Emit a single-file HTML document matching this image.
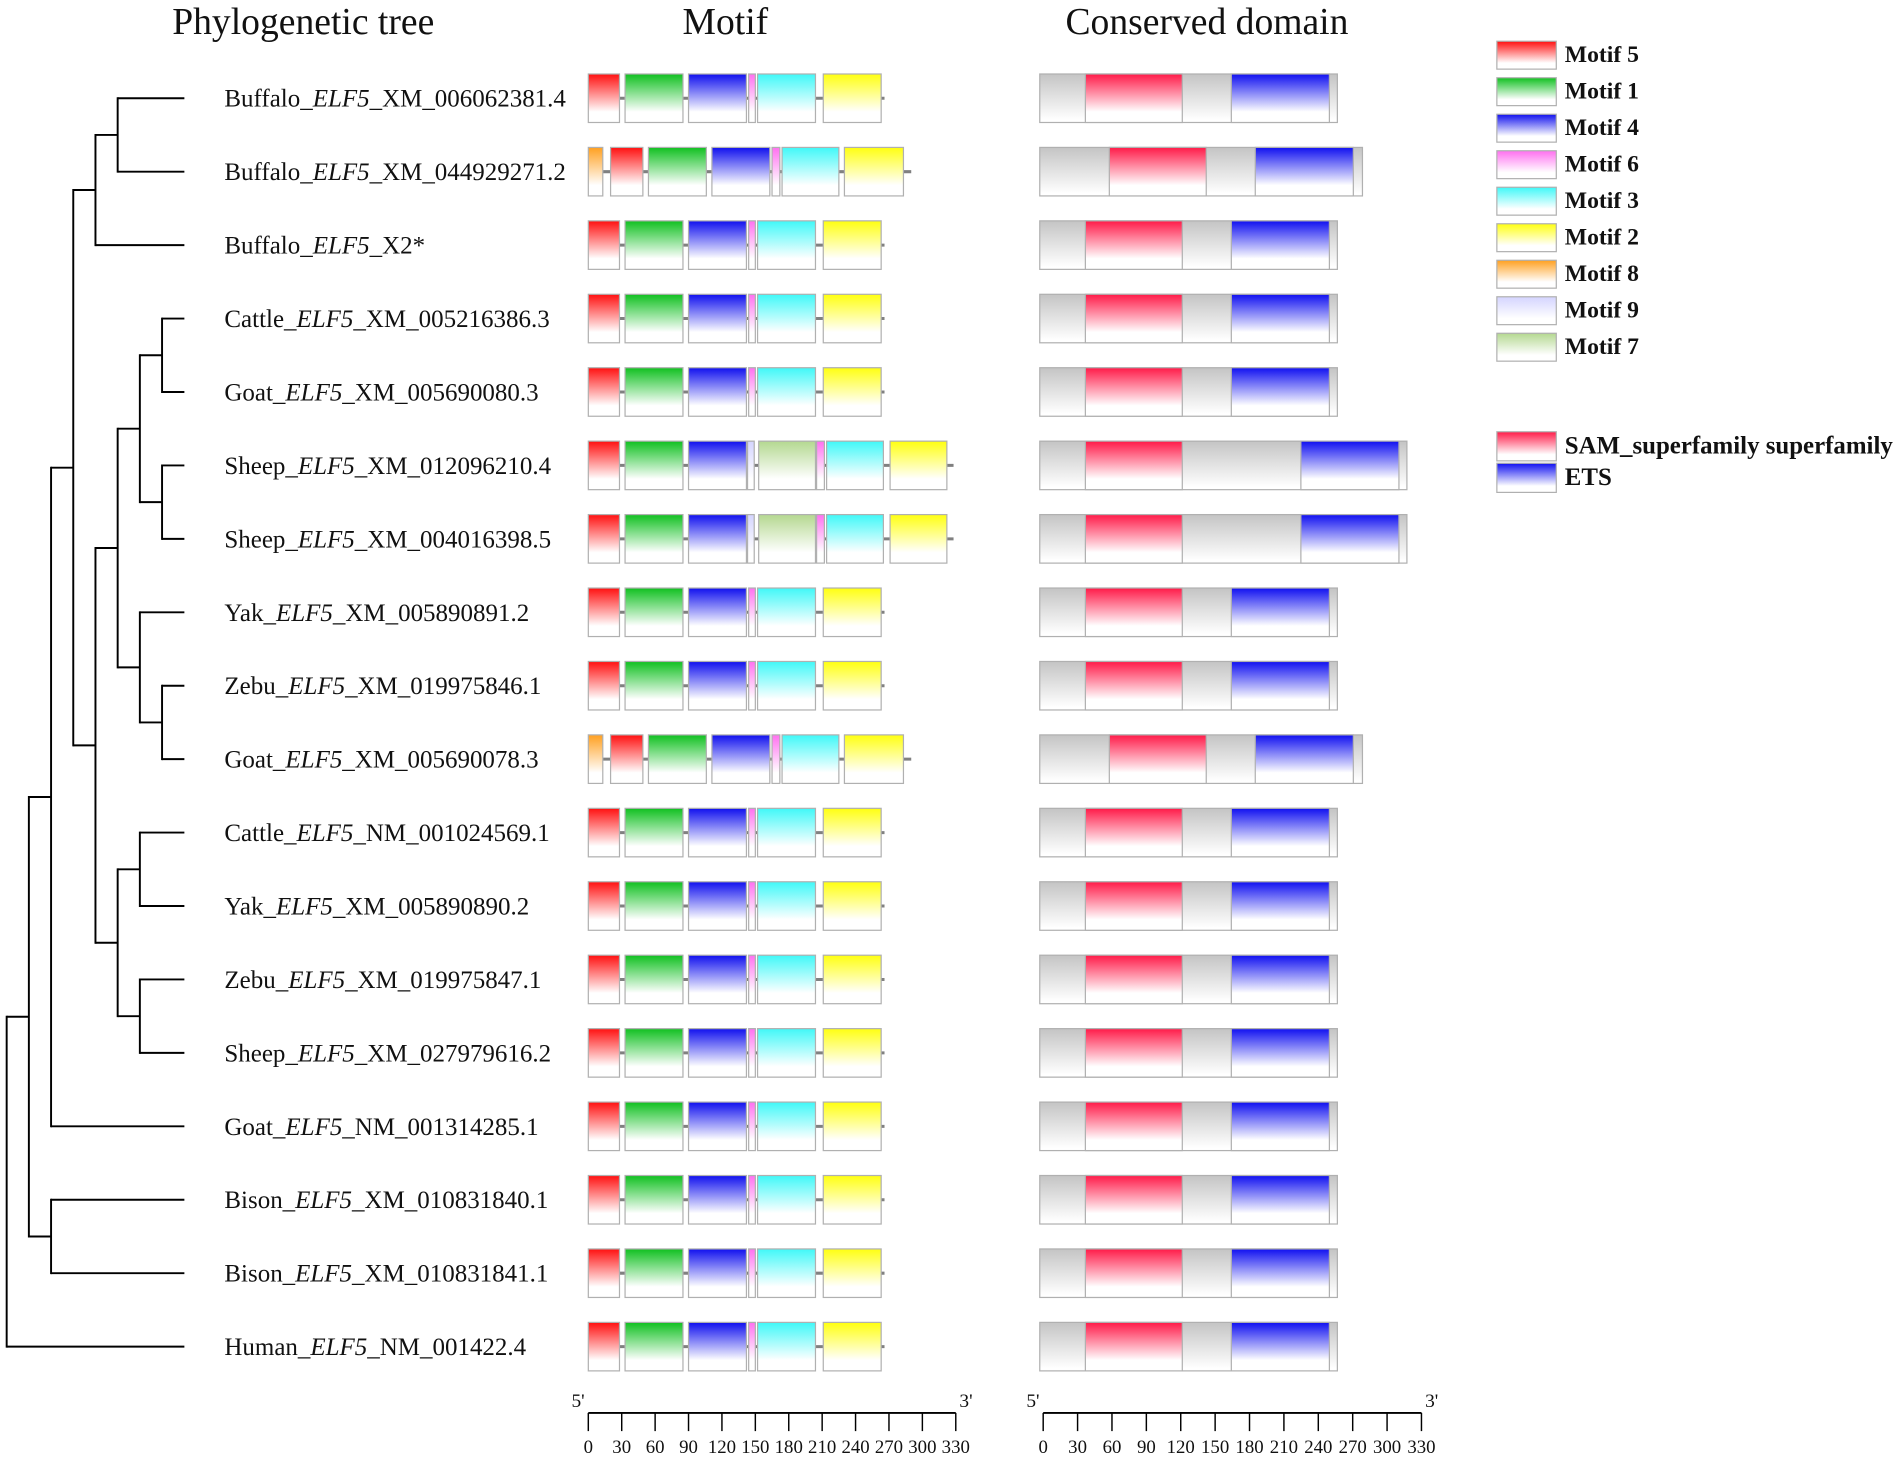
<!DOCTYPE html>
<html><head><meta charset="utf-8"><style>
html,body{margin:0;padding:0;background:#fff;}
svg{display:block;}
text{font-family:"Liberation Serif",serif;fill:#111;}
</style></head><body>
<svg id="fig" width="1902" height="1459" viewBox="0 0 1568 1203" preserveAspectRatio="none" xmlns="http://www.w3.org/2000/svg">
<defs id="defs"></defs>
<text x="250" y="28" font-size="31" text-anchor="middle">Phylogenetic tree</text>
<text x="598" y="28" font-size="31" text-anchor="middle">Motif</text>
<text x="995" y="28" font-size="31" text-anchor="middle">Conserved domain</text>
<g id="tree"></g>
<g id="labels"></g>
<g id="motifs"></g>
<g id="domains"></g>
<g id="axes"></g>
<g id="legend"></g>
</svg>
<script>
const species = ["Buffalo","Buffalo","Buffalo","Cattle","Goat","Sheep","Sheep","Yak","Zebu","Goat","Cattle","Yak","Zebu","Sheep","Goat","Bison","Bison","Human"];
const accessions = ["XM_006062381.4","XM_044929271.2","X2*","XM_005216386.3","XM_005690080.3","XM_012096210.4","XM_004016398.5","XM_005890891.2","XM_019975846.1","XM_005690078.3","NM_001024569.1","XM_005890890.2","XM_019975847.1","XM_027979616.2","NM_001314285.1","XM_010831840.1","XM_010831841.1","NM_001422.4"];
const rowPattern = ["std","m8","std","std","std","sheep","sheep","std","std","m8","std","std","std","std","std","std","std","std"];
// motif segments [motif, start aa, end aa]
const motifStd = [[5,0,28],[1,33,85],[4,90,142],[6,144,150],[3,152,204],[2,211,263]];
const motifM8 = [[8,0,13],[5,20,49],[1,54,106],[4,111,163],[6,165,172],[3,174,225],[2,230,283]];
const motifSheep = [[5,0,28],[1,33,85],[4,90,142],[9,143,149],[7,153,204],[6,205,212],[3,214,265],[2,271,322]];
const proteinLen = {std:266, m8:290, sheep:328};
const barStart = -3;
const domainLen = {std:258, m8:280, sheep:319};
const samDomain = {std:[37,122], m8:[58,143], sheep:[37,122]};
const etsDomain = {std:[165,251], m8:[186,272], sheep:[226,312]};
const axisTicks = [0,30,60,90,120,150,180,210,240,270,300,330];
const legendMotifs = [5,1,4,6,3,2,8,9,7];
// tree topology: leaves are row indices, internal = [level, children]
const tree = [0,[[1,[[2,[[3,[[4,[[5,[0,1]],2]],[4,[[5,[[6,[[7,[3,4]],[7,[5,6]]]],[6,[7,[7,[8,9]]]]]],[5,[[6,[10,11]],[6,[12,13]]]]]]]],14]],[2,[15,16]]]],17]];

const motifColor = {5:"#ff1010",1:"#10c020",4:"#1010ee",6:"#ff70f0",3:"#40f8f8",2:"#ffff10",8:"#ffa020",9:"#d4d4ff",7:"#b4d890"};
const NS="http://www.w3.org/2000/svg";
const svg=document.getElementById('fig'), defs=document.getElementById('defs');
function el(tag,attrs,parent){const e=document.createElementNS(NS,tag);for(const k in attrs)e.setAttribute(k,attrs[k]);parent.appendChild(e);return e;}
function grad(id,color,stop){const g=el('linearGradient',{id:id,x1:0,y1:0,x2:0,y2:1},defs);el('stop',{offset:0,'stop-color':color},g);el('stop',{offset:stop,'stop-color':'#fff'},g);el('stop',{offset:1,'stop-color':'#fff'},g);}
for(const m in motifColor)grad('g'+m,motifColor[m],0.78);
grad('gsam','#ff1a48',0.78);grad('gets','#1010f0',0.78);grad('ggray','#c4c4c4',0.95);

const rowY=i=>81+i*60.55;
const levelX=l=>5.5+l*18.3;
const leafX=152;
const mx=v=>485+v*0.918;
const dx=v=>860+v*0.94;

const T=document.getElementById('tree');
function drawNode(n){
  if(typeof n==='number')return {x:leafX,y:rowY(n)};
  const x=levelX(n[0]);const ch=n[1].map(drawNode);
  const ys=ch.map(c=>c.y);
  const v=el('line',{x1:x,x2:x,y1:Math.min(...ys),y2:Math.max(...ys),stroke:'#000','stroke-width':1.6,'stroke-linecap':'square'},T);
  
  
  ch.forEach(c=>{const h=el('line',{x1:x,x2:c.x,y1:c.y,y2:c.y,stroke:'#000','stroke-width':1.6},T);
    
    });
  return {x:x,y:(Math.min(...ys)+Math.max(...ys))/2};
}
drawNode(tree);

const L=document.getElementById('labels'),M=document.getElementById('motifs'),D=document.getElementById('domains');
species.forEach((sp,i)=>{
  const y=rowY(i);
  const t=el('text',{x:185,y:y+7,'font-size':20.6},L);
  
  
  el('tspan',{},t).textContent=sp+'_';
  el('tspan',{'font-style':'italic'},t).textContent='ELF5';
  el('tspan',{},t).textContent='_'+accessions[i];
  const p=rowPattern[i];
  const segs=p==='std'?motifStd:(p==='m8'?motifM8:motifSheep);
  const bl=el('line',{x1:mx(0),x2:mx(proteinLen[p]),y1:y,y2:y,stroke:'#808080','stroke-width':2.5},M);
  
  
  segs.forEach(s=>{
    const r=el('rect',{x:mx(s[1]),y:y-20,width:mx(s[2])-mx(s[1]),height:40,fill:'url(#g'+s[0]+')',stroke:'#b0b0b0','stroke-width':1},M);
    
    
  });
  const g=el('rect',{x:dx(barStart),y:y-20,width:dx(domainLen[p])-dx(barStart),height:40,fill:'url(#ggray)',stroke:'#b0b0b0','stroke-width':1},D);
  
  
  const s1=samDomain[p],e1=etsDomain[p];
  const sr=el('rect',{x:dx(s1[0]),y:y-20,width:dx(s1[1])-dx(s1[0]),height:40,fill:'url(#gsam)',stroke:'#b0b0b0','stroke-width':1},D);
  
  
  const er=el('rect',{x:dx(e1[0]),y:y-20,width:dx(e1[1])-dx(e1[0]),height:40,fill:'url(#gets)',stroke:'#b0b0b0','stroke-width':1},D);
  
  
});

const A=document.getElementById('axes');
function axis(f,name,tickFont){
  const ay=1165;
  const ln=el('line',{x1:f(0),x2:f(330),y1:ay,y2:ay,stroke:'#000','stroke-width':1.6},A);
  
  
  axisTicks.forEach(v=>{
    const tk=el('line',{x1:f(v),x2:f(v),y1:ay,y2:ay+15,stroke:'#000','stroke-width':1.2},A);
    
    
    const tl=el('text',{x:f(v),y:ay+33,'font-size':tickFont,'text-anchor':'middle'},A);
    
    
    tl.textContent=v;
  });
  const a=el('text',{x:f(0)-3,y:ay-5,'font-size':16,'text-anchor':'end'},A);a.textContent="5'";
  
  
  const b=el('text',{x:f(330)+3,y:ay-5,'font-size':16},A);b.textContent="3'";
  
  
}
axis(mx,'motif',15.5);axis(v=>860+v*0.945,'domain',15.5);

const G=document.getElementById('legend');
legendMotifs.forEach((m,i)=>{
  const y=34+i*30.1;
  const r=el('rect',{x:1234,y:y,width:49,height:23,fill:'url(#g'+m+')',stroke:'#b0b0b0','stroke-width':1},G);
  
  
  const t=el('text',{x:1290,y:y+17,'font-size':19.5,'font-weight':'bold'},G);
  
  
  t.textContent='Motif '+m;
});
[['gsam','SAM_superfamily superfamily','sam'],['gets','ETS','ets']].forEach((d,i)=>{
  const y=356+i*26;
  const r=el('rect',{x:1234,y:y,width:49,height:24,fill:'url(#'+d[0]+')',stroke:'#b0b0b0','stroke-width':1},G);
  
  
  const t=el('text',{x:1290,y:y+18,'font-size':20.5,'font-weight':'bold'},G);
  
  
  t.textContent=d[1];
});
</script>
</body></html>
